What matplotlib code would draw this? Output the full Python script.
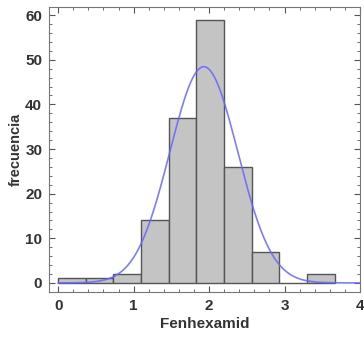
import numpy as np
import matplotlib
matplotlib.use("Agg")
from matplotlib import pyplot as plt
from matplotlib.ticker import MultipleLocator

# histogram bins (Fenhexamid) and counts
bin_edges = [0.0, 0.367, 0.733, 1.1, 1.467, 1.833, 2.2, 2.567, 2.933, 3.3, 3.667]
counts = [1, 1, 2, 14, 37, 59, 26, 7, 0, 2]

# fitted normal curve parameters
fit_mean = 1.93
fit_sd = 0.45

plt.rcParams['font.family'] = ['Liberation Sans', 'DejaVu Sans']

fig = plt.figure(figsize=(3.64, 3.37), dpi=100)
ax = fig.add_axes([0.135, 0.134, 0.854, 0.845])

edges = np.array(bin_edges)
widths = np.diff(edges)
ax.bar(edges[:-1], counts, width=widths, align='edge',
       color='#c4c4c4', edgecolor='#555555', linewidth=1.0, zorder=2)

n = sum(counts)
xs = np.linspace(0, 4, 300)
ys = n * widths.mean() * np.exp(-0.5 * ((xs - fit_mean) / fit_sd) ** 2) / (fit_sd * np.sqrt(2 * np.pi))
ax.plot(xs, ys, color='#6666ff', linewidth=1.2, alpha=0.85, zorder=3)

ax.set_xlim(-0.12, 4.0)
ax.set_ylim(-2, 61.8)
ax.xaxis.set_major_locator(MultipleLocator(1))
ax.xaxis.set_minor_locator(MultipleLocator(0.2))
ax.yaxis.set_major_locator(MultipleLocator(10))
ax.yaxis.set_minor_locator(MultipleLocator(2))
ax.tick_params(which='both', direction='in', top=True, right=True,
               color='#555555', labelsize=11)
ax.tick_params(which='major', length=4, width=0.8, pad=5)
ax.tick_params(which='minor', length=2, width=0.6)
for lbl in ax.get_xticklabels() + ax.get_yticklabels():
    lbl.set_fontweight('bold')
    lbl.set_color('#333333')
for sp in ax.spines.values():
    sp.set_color('#777777')

ax.set_xlabel('Fenhexamid', fontsize=11, fontweight='bold', color='#333333', labelpad=3)
ax.set_ylabel('frecuencia', fontsize=10.5, fontweight='bold', color='#333333', labelpad=2)

fig.savefig('out.png', dpi=100)
